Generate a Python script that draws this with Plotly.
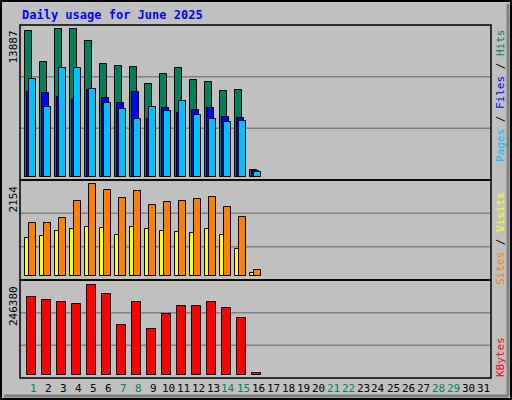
import plotly.graph_objects as go

days = list(range(1, 32))
data_days = list(range(1, 17))
hits = [13699, 10777, 13887, 13887, 12756, 10588, 10400, 10306, 8703, 9646, 10211, 9080, 8892, 8043, 8138, 691]
files = [7981, 7855, 7509, 7227, 8169, 7384, 6912, 7949, 5436, 6441, 5970, 6252, 6441, 5593, 5498, 534]
pages = [9175, 6535, 10211, 10211, 8232, 6912, 6347, 5404, 6535, 6158, 7101, 5781, 5404, 5121, 5216, 503]
visits = [1241, 1241, 1358, 1756, 2154, 2013, 1826, 1990, 1662, 1733, 1756, 1803, 1850, 1615, 1381, 140]
sites = [890, 936, 1054, 1100, 1147, 1124, 960, 1147, 1100, 1054, 1030, 1007, 1100, 960, 632, 70]
kbytes = [213890, 205770, 200355, 194940, 246380, 222015, 138083, 200355, 127253, 167865, 189525, 189525, 200355, 184110, 157035, 5415]
weekend_days = [1, 7, 8, 14, 15, 21, 22, 28, 29]
title = "Daily usage for June 2025"

W, H = 512, 400
def py(p):
    return 1 - p / H

fig = go.Figure()
line = dict(color="black", width=1)

def bar(y, color, off, w, ax, name):
    fig.add_trace(go.Bar(x=data_days, y=y, marker=dict(color=color, line=line),
                         offset=off, width=w, yaxis=ax, name=name, showlegend=False))

bar(hits, "#00805C", -0.53, 0.47, "y", "Hits")
bar(files, "#0000FF", -0.40, 0.47, "y", "Files")
bar(pages, "#00C0FF", -0.27, 0.47, "y", "Pages")
bar(sites, "#FFFF00", -0.53, 0.27, "y2", "Sites")
bar(visits, "#FF8000", -0.27, 0.47, "y2", "Visits")
bar(kbytes, "#FF0000", -0.42, 0.62, "y3", "KBytes")

mh, mv, mk = max(hits), max(visits), max(kbytes)
xd = [20 / W, 491 / W]
ax_common = dict(showgrid=False, zeroline=False, showticklabels=False, ticks="", fixedrange=True)
fig.update_layout(
    width=W, height=H, margin=dict(l=0, r=0, t=0, b=0),
    paper_bgcolor="#C0C0C0", plot_bgcolor="#C0C0C0",
    barmode="overlay", bargap=0,
    xaxis=dict(domain=xd, range=[0.133, 31.53], anchor="y3", **ax_common),
    yaxis=dict(domain=[py(180), py(25)], range=[-mh * 3 / 148, mh * 152 / 148], **ax_common),
    yaxis2=dict(domain=[py(280), py(180)], range=[-mv * 4 / 92, mv * 96 / 92], **ax_common),
    yaxis3=dict(domain=[py(378), py(280)], range=[-mk * 2.7 / 91, mk * 95.7 / 91], **ax_common),
)

shapes = []
for ax in ["y", "y2", "y3"]:
    for f in (1 / 3, 2 / 3):
        shapes.append(dict(type="line", xref="x domain", yref=ax + " domain", x0=0, x1=1, y0=f, y1=f,
                           line=dict(color="#808080", width=1.5), layer="below"))
for top, bot in [(25, 180), (180, 280), (280, 378)]:
    shapes.append(dict(type="rect", xref="paper", yref="paper", x0=20 / W, x1=491 / W, y0=py(bot), y1=py(top),
                       line=dict(color="black", width=1.5)))
shapes.append(dict(type="rect", xref="paper", yref="paper", x0=1 / W, x1=1 - 1 / W, y0=1 / H, y1=1 - 1 / H,
                   line=dict(color="black", width=2)))
shapes.append(dict(type="line", xref="paper", yref="paper", x0=508 / W, x1=508 / W, y0=4 / H, y1=py(4),
                   line=dict(color="#808080", width=3)))
shapes.append(dict(type="line", xref="paper", yref="paper", x0=4 / W, x1=508 / W, y0=4 / H, y1=4 / H,
                   line=dict(color="#808080", width=3)))
fig.update_layout(shapes=shapes)

mono = "DejaVu Sans Mono"
ann = [dict(x=20 / W, y=py(15), xref="paper", yref="paper", text="<b>" + title + "</b>", showarrow=False,
            xanchor="left", yanchor="middle", font=dict(family=mono, size=12, color="#0000FF"))]
for d in days:
    ann.append(dict(x=d, y=py(388), xref="x", yref="paper", text=str(d), showarrow=False,
                    xanchor="center", yanchor="middle",
                    font=dict(family=mono, size=11, color="#00805C" if d in weekend_days else "black")))
for val, top in [(max(hits), 29), (max(visits), 184), (max(kbytes), 284)]:
    ann.append(dict(x=13 / W, y=py(top), xref="paper", yref="paper", text=str(val), showarrow=False,
                    textangle=-90, xanchor="center", yanchor="top",
                    font=dict(family=mono, size=11, color="black")))
def sp(t, c):
    return f'<span style="color:{c}">{t}</span>'
sep = sp(" / ", "black")
for txt, yc in [(sp("Pages", "#00C0FF") + sep + sp("Files", "#0000FF") + sep + sp("Hits", "#00805C"), 96),
                (sp("Sites", "#FF8000") + sep + sp("Visits", "#FFFF00"), 239),
                (sp("KBytes", "#FF0000"), 357)]:
    ann.append(dict(x=500 / W, y=py(yc), xref="paper", yref="paper", text=txt, showarrow=False,
                    textangle=-90, xanchor="center", yanchor="middle", font=dict(family=mono, size=11)))
fig.update_layout(annotations=ann)

fig.write_html("out.html", config={"displayModeBar": False},
               post_script="document.body.style.margin='0';document.body.style.overflow='hidden';")
